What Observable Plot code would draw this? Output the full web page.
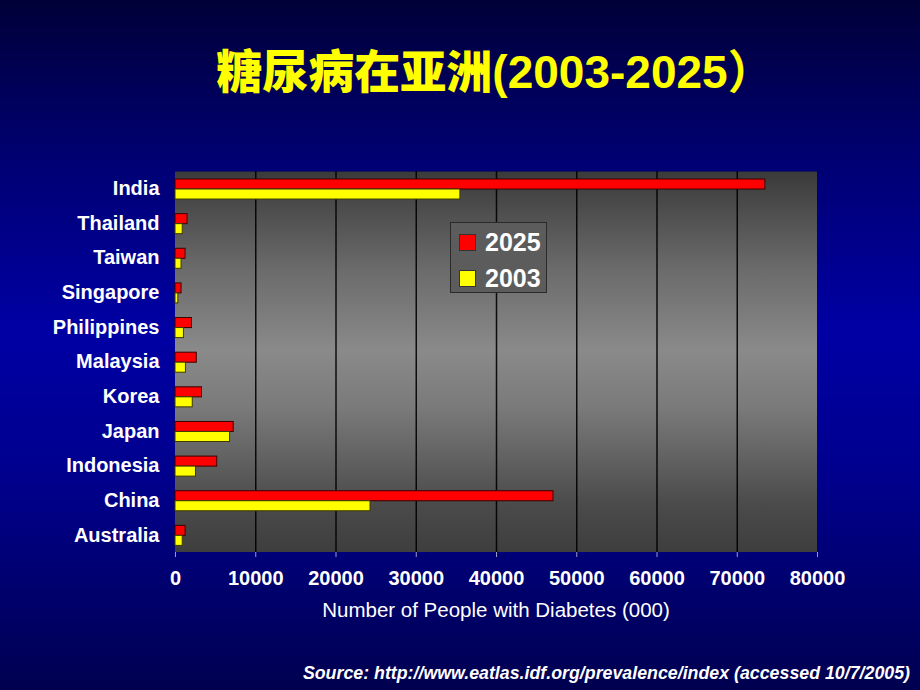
<!DOCTYPE html>
<html>
<head>
<meta charset="utf-8">
<script src="https://cdn.jsdelivr.net/npm/d3@7"></script>
<script src="https://cdn.jsdelivr.net/npm/@observablehq/plot@0.6"></script>
<style>
  html, body { margin: 0; padding: 0; }
  body { width: 920px; height: 690px; overflow: hidden; }
  #slide {
    position: relative; width: 920px; height: 690px; overflow: hidden;
    background: linear-gradient(to bottom, #000038 0%, #000070 22%, #0000a4 48%, #00008c 70%, #000050 100%);
    font-family: "Liberation Sans", Arial, sans-serif;
  }
  #title {
    position: absolute; left: 15px; top: 40px; width: 960px; text-align: center;
    color: #ffff00; font-weight: bold; font-size: 46px; line-height: 56px;
    font-family: "Liberation Sans", "Noto Sans CJK SC", sans-serif;
  }
  #title .cjk { font-family: "Noto Sans CJK SC", sans-serif; font-weight: 900; }
  #plotbg {
    position: absolute; left: 175px; top: 171px; width: 642px; height: 381px;
    background: linear-gradient(to bottom, #3a3a3a 0%, #6a6a6a 25%, #8a8a8a 47%, #7a7a7a 62%, #4a4a4a 88%, #3e3e3e 100%);
    border-top: 1px solid #1a1a50;
    box-sizing: border-box;
  }
  #chart { position: absolute; left: 0; top: 150px; line-height: 0; }
  #legend {
    position: absolute; left: 450px; top: 222px; width: 97px; height: 71px;
    box-sizing: border-box; border: 1px solid #2a2a2a;
    background: #5c5c5c;
    color: #fff; font-weight: bold; font-size: 25px;
  }
  #legend .row { position: absolute; left: 8px; height: 24px; display: flex; align-items: center; }
  #legend .sw { width: 15px; height: 15px; border: 1px solid #333; margin-right: 9px; }
  #xlabel {
    position: absolute; left: 175px; width: 642px; top: 598px; text-align: center;
    color: #fff; font-size: 20.5px;
  }
  #source {
    position: absolute; right: 10px; top: 663px; color: #fff; font-weight: bold;
    font-style: italic; font-size: 17.8px;
  }
</style>
</head>
<body>
<div id="slide">
  <div id="title"></div>
  <div id="plotbg"></div>
  <div id="chart"></div>
  <div id="legend"></div>
  <div id="xlabel"></div>
  <div id="source"></div>
</div>
<script>
const titleCJK = "糖尿病在亚洲";
const titleLatin = "(2003-2025）";
const countries = ["India", "Thailand", "Taiwan", "Singapore", "Philippines", "Malaysia", "Korea", "Japan", "Indonesia", "China", "Australia"];
const values2025 = [73500, 1500, 1250, 750, 2050, 2650, 3300, 7250, 5200, 47100, 1250];
const values2003 = [35500, 900, 750, 350, 1050, 1300, 2150, 6800, 2550, 24300, 900];
const seriesNames = ["2025", "2003"];
const seriesColors = ["#ff0000", "#ffff00"];
const xTicks = [0, 10000, 20000, 30000, 40000, 50000, 60000, 70000, 80000];
const xLabel = "Number of People with Diabetes (000)";
const sourceText = "Source: http://www.eatlas.idf.org/prevalence/index (accessed 10/7/2005)";

document.getElementById("title").innerHTML = `<span class="cjk">${titleCJK}</span>${titleLatin}`;
document.getElementById("xlabel").textContent = xLabel;
document.getElementById("source").textContent = sourceText;

const legend = document.getElementById("legend");
seriesNames.forEach((s, i) => {
  const row = document.createElement("div");
  row.className = "row";
  row.style.top = (7 + i * 36) + "px";
  row.innerHTML = `<div class="sw" style="background:${seriesColors[i]}"></div><span>${s}</span>`;
  legend.appendChild(row);
});

const rows2025 = countries.map((c, i) => ({country: c, value: values2025[i]}));
const rows2003 = countries.map((c, i) => ({country: c, value: values2003[i]}));

const chart = Plot.plot({
  width: 920,
  height: 480,
  marginLeft: 175,
  marginRight: 103,
  marginTop: 21,
  marginBottom: 78,
  style: {background: "transparent", color: "#fff", fontFamily: "Liberation Sans, Arial, sans-serif", overflow: "visible"},
  x: {domain: [0, 80000], ticks: xTicks, label: null},
  y: {domain: countries, padding: 0, round: false, label: null},
  marks: [
    Plot.ruleX(xTicks.slice(1, -1), {stroke: "#000", strokeWidth: 1.5, strokeOpacity: 0.9}),
    Plot.barX(rows2025, {y: "country", x: "value", fill: seriesColors[0], stroke: "#3a0000", strokeWidth: 1, insetTop: 8, insetBottom: 16.6}),
    Plot.barX(rows2003, {y: "country", x: "value", fill: seriesColors[1], stroke: "#3a3a00", strokeWidth: 1, insetTop: 18, insetBottom: 6.6}),
    Plot.axisY({tickSize: 0, tickPadding: 16, fontSize: 20, fontWeight: "bold", fill: "#fff"}),
    Plot.axisX({ticks: xTicks, tickFormat: d => String(d), tickSize: 5, tickPadding: 13, fontSize: 20, fontWeight: "bold", fill: "#fff", stroke: "#9a9ac8", label: null}),
    Plot.ruleY([0], {frameAnchor: "bottom", stroke: "#7070b0", strokeWidth: 1.5})
  ]
});
document.getElementById("chart").appendChild(chart);
</script>
</body>
</html>
